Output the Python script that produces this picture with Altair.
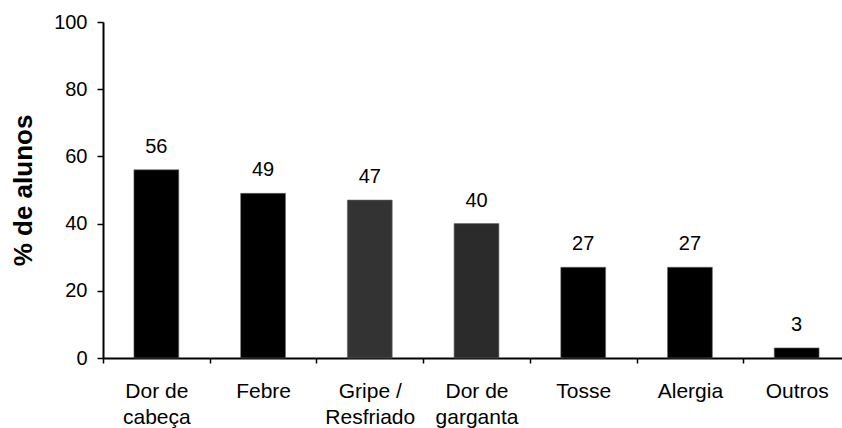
import altair as alt
import pandas as pd

# Symptoms reported by students (% of respondents)
categories = ["Dor de\ncabeça", "Febre", "Gripe /\nResfriado", "Dor de\ngarganta",
              "Tosse", "Alergia", "Outros"]
values = [56, 49, 47, 40, 27, 27, 3]
shades = ["#000000", "#000000", "#333333", "#2b2b2b", "#000000", "#000000", "#000000"]

df = pd.DataFrame({"sintoma": categories, "pct": values, "cor": shades})

FONT = "Liberation Sans"
X_RANGE = 747
STEP = X_RANGE / len(categories)

x_enc = alt.X(
    "sintoma:N",
    sort=None,
    scale=alt.Scale(range=[0, X_RANGE], paddingInner=0.58, paddingOuter=0.29),
    axis=alt.Axis(
        title=None,
        labelAngle=0,
        labelExpr="split(datum.label, '\\n')",
        labelFont=FONT,
        labelFontSize=21,
        labelColor="#000000",
        labelLineHeight=26,
        labelPadding=17,
        labelOffset=STEP / 2,
        ticks=True,
        tickOffset=-STEP / 2,
        tickSize=5,
        tickWidth=1.5,
        tickColor="#000000",
        domainColor="#000000",
        domainWidth=2,
        grid=False,
    ),
)

y_enc = alt.Y(
    "pct:Q",
    scale=alt.Scale(domain=[0, 100], nice=False),
    axis=alt.Axis(
        title="% de alunos",
        titleFont=FONT,
        titleFontSize=26,
        titleFontWeight="bold",
        titleColor="#000000",
        titlePadding=17,
        values=[0, 20, 40, 60, 80, 100],
        labelFont=FONT,
        labelFontSize=20,
        labelColor="#000000",
        labelPadding=10,
        tickSize=6,
        tickWidth=1.5,
        tickColor="#000000",
        domainColor="#000000",
        domainWidth=2,
        grid=False,
    ),
)

bars = alt.Chart(df).mark_bar(stroke="#666666", strokeWidth=0.6).encode(
    x=x_enc,
    y=y_enc,
    color=alt.Color("cor:N", scale=None),
)

labels = alt.Chart(df).mark_text(
    font=FONT, fontSize=20, color="#000000", baseline="alphabetic", dy=-17
).encode(
    x=alt.X("sintoma:N", sort=None),
    y="pct:Q",
    text="pct:Q",
)

chart = (
    alt.layer(bars, labels)
    .properties(
        width=739,
        height=336,
        autosize=alt.AutoSizeParams(type="none"),
        padding={"left": 103, "top": 22, "right": 0, "bottom": 70},
        background="#ffffff",
    )
    .configure_view(stroke=None)
)

chart.save("out.html", embed_options={"renderer": "svg", "actions": False})
